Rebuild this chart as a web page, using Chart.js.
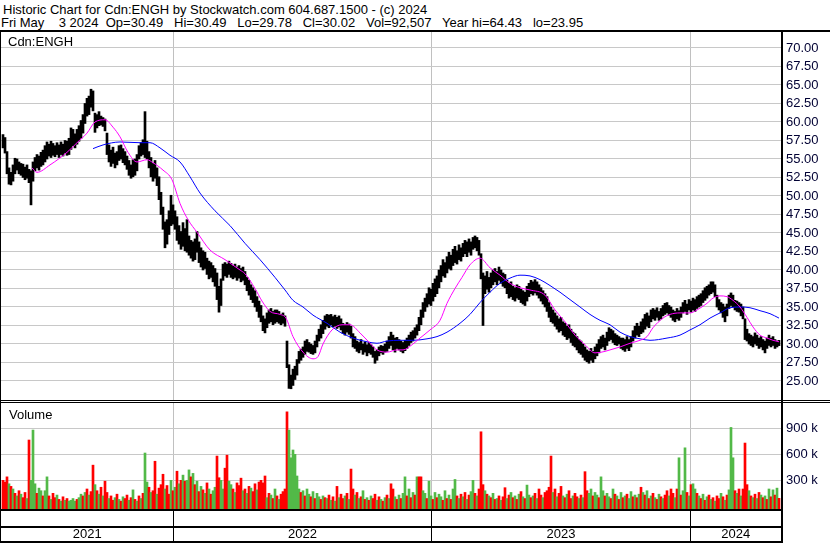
<!DOCTYPE html>
<html><head><meta charset="utf-8">
<script src="https://cdn.jsdelivr.net/npm/chart.js@4.4.1/dist/chart.umd.min.js"></script>
<style>
html,body{margin:0;padding:0;background:#fff;}
body{width:830px;height:543px;position:relative;overflow:hidden;font-family:"Liberation Sans",Arial,sans-serif;}
.t{position:absolute;white-space:pre;font-size:13px;line-height:14px;color:#000;}
.ln{position:absolute;background:#000;}
canvas{position:absolute;left:0;}
</style></head><body>
<div class="t" style="left:3px;top:3px">Historic Chart for Cdn:ENGH by Stockwatch.com 604.687.1500 - (c) 2024</div>
<div class="t" style="left:1px;top:16px">Fri May    3 2024  Op=30.49   Hi=30.49   Lo=29.78   Cl=30.02   Vol=92,507   Year hi=64.43   lo=23.95</div>
<canvas id="pc" width="830" height="368" style="top:32px;width:830px;height:368px"></canvas>
<canvas id="vc" width="830" height="140" style="top:403px;width:830px;height:140px"></canvas>
<div class="t" style="left:8px;top:35px">Cdn:ENGH</div>
<div class="t" style="left:9px;top:408px">Volume</div>
<div class="ln" style="left:0;top:30px;width:830px;height:2px"></div>
<div class="ln" style="left:0;top:400px;width:830px;height:1px"></div>
<div class="ln" style="left:0;top:402px;width:830px;height:1px"></div>
<div class="ln" style="left:781px;top:30px;width:2px;height:513px"></div>
<div class="ln" style="left:0;top:30px;width:1px;height:513px"></div>
<script>
// ---- data (2-weekday buckets, Apr 2021 .. May 3 2024) ----
const highs = [58.3,57.9,56.0,53.8,53.2,54.2,55.1,55.0,54.6,54.4,
54.3,53.9,54.2,53.6,53.4,54.6,55.2,55.6,55.4,55.9,
56.2,56.8,57.3,57.0,57.4,57.1,56.8,57.2,56.9,57.3,
57.0,57.5,57.4,57.8,59.2,59.0,58.4,59.0,59.5,60.2,
61.0,62.5,63.2,63.5,64.43,64.2,61.2,61.0,61.4,60.8,
60.6,60.4,58.5,56.9,56.2,56.6,55.8,56.0,56.8,56.9,
56.4,56.0,55.4,54.8,54.2,54.9,55.0,55.6,56.8,57.2,
57.6,61.4,57.4,56.0,55.2,54.4,54.8,53.8,52.6,50.5,
48.5,46.5,46.8,48.0,50.1,48.8,48.0,47.2,46.0,45.2,
46.4,45.6,46.8,44.6,44.0,43.8,44.2,45.2,43.8,43.0,
42.6,42.4,41.6,41.2,41.0,40.6,40.2,39.6,37.8,38.8,
40.8,41.0,40.8,41.2,40.9,40.6,40.8,40.4,40.6,40.2,
40.4,39.8,39.0,38.6,38.0,37.6,37.2,36.4,35.8,35.2,
33.8,33.4,34.2,34.6,34.8,34.4,34.6,34.6,34.4,34.0,
34.2,33.8,30.4,27.2,25.8,26.6,27.0,27.9,29.0,29.3,
29.6,30.4,30.6,30.2,30.0,29.8,30.4,31.2,32.0,32.6,
33.2,33.8,34.0,33.9,34.0,33.7,33.9,33.6,33.8,33.4,
32.8,32.6,32.9,32.7,32.4,31.4,31.0,30.4,30.2,30.6,
30.0,30.3,29.9,30.2,29.9,29.6,29.0,29.2,29.6,29.8,
29.7,30.0,30.4,31.0,31.6,31.2,30.8,30.9,30.6,30.4,
30.2,30.5,30.8,31.2,31.6,31.8,32.2,32.6,33.6,34.6,
35.6,36.2,36.8,37.6,37.4,38.2,38.8,39.2,40.0,40.6,
41.4,41.0,41.8,42.4,42.0,42.8,43.2,42.6,43.4,43.0,
43.6,44.0,43.8,44.2,43.8,44.4,44.6,44.4,44.0,42.2,
39.6,39.2,39.8,39.0,39.6,40.0,40.2,39.8,40.4,40.0,
39.6,39.4,38.6,38.2,38.4,37.8,37.6,38.0,37.8,37.4,
37.2,37.0,37.8,38.2,38.6,38.4,38.7,38.4,38.0,37.6,
37.2,36.8,36.4,35.6,35.0,34.6,34.2,33.8,33.4,33.6,
33.0,32.8,32.4,32.6,32.0,31.6,31.4,31.0,30.6,30.4,
30.0,29.6,29.2,29.0,29.4,29.0,29.6,30.0,30.6,31.0,
31.2,30.8,31.6,32.2,32.0,31.8,31.4,31.2,31.0,30.8,
30.8,30.6,31.0,30.6,31.0,31.8,32.4,32.8,32.4,33.0,
33.4,34.0,34.2,33.8,34.6,34.8,34.6,34.9,34.4,34.8,
35.2,35.5,35.6,35.2,35.0,34.6,34.4,34.8,34.5,35.0,
35.6,35.9,35.4,36.0,35.8,36.2,36.0,36.4,36.6,36.8,
37.2,37.6,37.8,38.0,38.4,38.4,38.0,36.6,36.0,35.6,
35.4,35.0,35.4,36.6,36.9,36.6,35.9,35.8,35.6,35.4,
35.0,33.4,32.0,31.4,31.2,31.0,31.5,31.2,30.8,31.0,
30.6,30.4,30.8,31.2,30.8,31.0,30.6,30.4,30.49];

const lows = [56.5,55.8,53.0,51.6,51.5,52.0,53.0,53.5,53.0,52.8,
52.5,52.2,52.4,51.8,48.8,52.0,53.4,53.8,53.5,54.0,
54.2,54.6,55.0,55.4,55.2,55.5,55.3,55.6,55.2,55.6,
55.4,55.8,55.5,55.6,56.3,56.8,56.5,57.0,57.4,57.8,
58.5,59.8,60.8,61.0,62.0,61.5,58.6,59.2,59.5,59.6,
59.4,58.8,55.6,54.6,54.0,54.4,53.8,54.2,54.8,55.0,
54.5,54.2,53.6,52.8,52.4,52.6,52.8,53.4,55.0,55.4,
55.6,55.2,55.0,53.8,52.6,52.0,52.4,51.4,49.5,47.5,
45.5,43.0,43.5,44.8,46.0,46.2,45.5,44.0,43.5,42.8,
43.2,42.6,42.4,42.0,41.6,41.2,41.4,42.4,41.0,40.4,
40.0,40.2,39.4,38.8,39.0,38.4,37.8,36.0,34.3,35.2,
38.6,39.2,39.0,39.4,39.0,38.8,39.0,38.6,38.9,38.4,
38.6,38.0,37.2,36.6,36.0,35.6,35.0,34.4,33.6,33.0,
31.8,31.5,32.2,32.8,33.0,32.6,32.8,33.0,32.8,32.6,
32.8,32.4,26.8,24.0,23.95,24.4,25.2,25.8,27.4,27.8,
28.2,28.6,29.0,28.9,28.7,28.6,28.8,29.6,30.4,30.8,
31.4,32.0,32.4,32.2,32.6,32.3,32.4,32.1,32.3,31.9,
31.4,31.2,31.6,31.3,30.8,29.6,29.4,29.0,28.8,29.2,
28.6,28.9,28.4,28.8,28.6,28.2,27.4,27.8,28.4,28.8,
28.6,28.9,29.0,29.4,29.8,29.2,28.9,29.4,29.2,29.0,
28.8,29.1,29.4,29.8,30.2,30.4,30.8,31.2,31.8,32.6,
33.6,34.4,35.0,35.4,35.2,35.8,36.4,36.8,37.6,38.4,
39.2,39.0,39.6,40.2,40.0,40.6,41.0,40.8,41.4,41.2,
41.8,42.2,41.8,42.4,42.0,42.8,43.0,42.6,42.0,38.8,
32.5,36.8,37.4,37.0,37.6,38.0,38.4,38.0,38.6,38.2,
37.8,37.6,36.8,36.2,36.4,36.0,35.8,36.2,36.0,35.6,
35.4,35.2,35.8,36.4,36.8,36.6,36.9,36.6,36.2,35.8,
35.4,35.0,34.4,33.6,33.0,32.8,32.4,32.0,31.6,31.8,
31.2,31.0,30.6,30.8,30.2,29.8,29.6,29.2,28.8,28.6,
28.2,27.8,27.6,27.4,27.8,27.5,28.0,28.4,28.8,29.4,
29.6,29.2,29.8,30.4,30.6,30.2,29.9,29.8,30.0,29.4,
29.2,29.0,29.4,29.1,29.6,30.4,30.8,31.2,31.0,31.4,
31.6,32.0,32.4,32.2,33.0,33.4,33.2,33.6,33.2,33.4,
33.8,34.0,34.2,33.9,33.6,33.2,33.0,33.4,33.2,33.6,
34.2,34.4,34.0,34.6,34.3,34.6,34.4,34.8,35.0,35.2,
35.6,35.9,36.2,36.6,36.8,37.0,36.4,35.0,34.6,34.2,
33.6,33.0,33.8,34.8,35.2,35.0,34.6,34.4,34.3,33.8,
33.4,30.6,30.4,30.0,29.8,29.6,30.0,29.8,29.4,29.6,
29.2,28.8,29.4,29.8,29.6,29.8,29.4,29.6,29.78];

// volume in thousands of shares
const volumesK = [300,280,340,260,230,200,150,120,180,140,
100,160,90,765,300,880,260,150,210,180,
120,180,340,120,80,150,100,130,80,60,
110,70,90,60,70,90,60,80,100,140,
120,160,200,130,170,475,250,180,140,220,
120,290,160,90,120,70,100,140,80,60,
110,90,130,70,100,190,80,60,120,90,
150,615,280,220,160,180,520,140,210,250,
370,200,240,140,300,180,220,405,260,300,
360,290,300,420,340,380,250,290,170,230,
190,150,270,200,140,180,220,580,330,300,
200,440,590,290,250,200,160,270,240,325,
180,200,150,230,210,170,260,190,280,300,
270,350,100,150,130,90,200,120,80,140,
170,200,1090,880,560,650,600,350,200,160,
180,120,200,140,110,170,90,150,110,80,
120,100,90,130,70,110,60,230,100,140,
90,120,150,80,430,200,130,160,90,110,
180,80,100,70,120,90,140,70,110,80,
60,100,130,90,260,200,110,80,130,90,
150,340,120,200,100,160,130,340,340,340,
180,150,90,290,120,80,160,100,140,110,
70,180,90,130,80,200,310,120,90,140,
110,160,80,130,170,300,150,120,200,860,
250,180,140,120,100,150,80,90,120,70,
110,215,90,130,160,100,120,80,140,170,
110,90,245,130,100,120,150,90,200,130,
100,160,180,220,580,160,200,110,150,230,
120,100,140,180,90,120,150,110,90,130,
100,400,180,150,200,120,160,130,100,340,
180,120,150,110,90,200,140,120,80,160,
100,120,140,90,170,110,130,100,140,220,
160,130,180,90,120,150,100,80,140,110,
90,130,180,120,200,150,100,200,560,130,
180,675,160,120,250,260,200,150,120,90,
140,70,110,130,80,100,60,120,90,150,
110,70,130,190,910,560,180,150,200,120,
200,730,250,180,120,100,140,90,160,130,
100,120,80,200,110,190,130,210,92.5];

// g = up day, r = down day
const volDir = ("rrrgrgrgrg rrgrgggrgg rggrgrrgrg rgrggggrgg rgrgrrgrgr grrgrrgrgr grrgrgrgrg rggrgrrgrr " +
 "rgrrgrgrgr grggrgrgrg rgrgrggrrg grrggrgrrr grgrgrrgrr rrgrgrgrgr rrrggggggr grggrgrggr " +
 "grgrgrgrgr rgrgrrgrgr grgrgrrgrg rgrgrrgrgr ggrgrgrgrr ggrggrgrgg rgrgrggrgr grgrggrgrr " +
 "rgrgrgrgrg rrgrgrgrgr grggrgrgrr grrrrgrgrr grgrrgrrgr grrggrggrg grggrgrgrg rgrggrgrgr " +
 "grgrgrgrgr grrgrrgrgr ggrgrggrgr grgrgrgrrg rgrgggrgrg rrrgrgrgrg rgrgrgrgr").replace(/ /g, "").split("");

// moving averages (weekday index, price)
const maShortDays = [31,36,49,66,76,86,94,104,112,119,127,136,146,152,162,171,179,187,196,209,224,239,244,254,261,269,279,285,292,302,312,317,322,331,341,349,359,369,376,386,396,402,411,419,429,439,446,454,461,469,479,489,499,509,519,529,544,554,564,574,584,594,604,609,619,629,639,646,652,662,669,679,689,696,706,712,719,726,732,739,746,752,759,766,772,778];
const maShortVals = [53.8,53.2,54.2,55.9,57.2,58.5,60.0,60.3,59.3,58.0,55.9,54.6,54.9,54.5,53.5,52.2,49.0,46.8,45.1,42.7,41.4,40.0,39.5,37.5,35.8,34.4,34.0,33.5,31.0,28.9,28.0,28.3,30.0,31.9,32.6,32.6,31.5,30.1,29.2,28.9,29.2,29.2,29.9,30.8,31.9,33.2,35.5,37.5,39.0,40.7,41.6,40.3,39.3,38.2,37.6,37.3,36.6,34.6,33.0,31.2,29.9,28.8,29.0,29.2,29.6,30.1,30.5,31.0,32.2,33.5,34.0,34.2,34.2,34.6,35.5,36.2,36.5,36.4,35.9,35.0,33.6,32.3,31.2,30.8,30.5,30.3];
const maLongDays = [92,102,119,139,149,159,169,179,189,199,214,229,244,259,274,284,292,302,312,326,339,352,366,376,386,399,412,426,436,446,459,469,479,489,499,509,519,529,539,549,559,569,579,589,599,609,619,629,639,649,666,679,689,699,709,719,729,739,749,759,769,778];
const maLongVals = [56.4,56.9,57.3,57.2,57.2,56.5,55.5,54.6,52.6,50.4,48.0,46.0,43.6,41.4,39.0,37.3,35.9,35.0,33.9,32.8,31.6,30.8,30.3,30.1,30.4,30.5,30.5,30.7,31.0,31.6,32.8,34.0,35.6,37.0,38.2,38.9,39.3,39.2,38.7,37.9,37.0,36.0,35.0,34.0,33.2,32.6,31.6,31.0,30.7,30.5,30.8,31.2,31.9,32.6,33.5,34.2,34.9,35.0,34.9,34.5,34.1,33.5];

// axes
const priceTicks = [25,27.5,30,32.5,35,37.5,40,42.5,45,47.5,50,52.5,55,57.5,60,62.5,65,67.5,70];
const volTicks = [300000,600000,900000];
const yearLabels = ["2021","2022","2023","2024"];
const yearBreakDays = [172.5,430.5,689.5];
const firstDay = 0, lastDay = 780;

// ---- drawing ----
const FONT = {family: "'Liberation Sans', Arial, sans-serif", size: 13};
const RED = '#ff0000', GREEN = '#52b948';
const dayOf = i => 2 * i + 2;

function noPad(s) { s.paddingTop = 0; s.paddingBottom = 0; s.paddingLeft = 0; s.paddingRight = 0; }
function gridX() {
  return {
    type: 'linear', min: firstDay, max: lastDay, offset: false,
    afterBuildTicks: s => { s.ticks = yearBreakDays.map(v => ({value: v})); },
    afterFit: s => { s.height = 0; noPad(s); },
    ticks: {display: false},
    grid: {color: '#c0c0c0', lineWidth: 1, drawTicks: false, offset: false},
    border: {display: false}
  };
}
const common = {
  responsive: false, animation: false, devicePixelRatio: 1, events: [],
  layout: {autoPadding: false, padding: {left: 1, right: 0, top: 0, bottom: 0}},
  plugins: {legend: {display: false}, tooltip: {enabled: false}}
};

new Chart(document.getElementById('pc'), {
  type: 'bar',
  data: {datasets: [
    {type: 'line', data: maShortDays.map((d, i) => ({x: d, y: maShortVals[i]})), borderColor: '#ff00ff', borderWidth: 1, pointRadius: 0, cubicInterpolationMode: 'monotone', order: 0},
    {type: 'line', data: maLongDays.map((d, i) => ({x: d, y: maLongVals[i]})), borderColor: '#0000ff', borderWidth: 1, pointRadius: 0, cubicInterpolationMode: 'monotone', order: 1},
    {type: 'bar', data: highs.map((h, i) => ({x: dayOf(i), y: [lows[i], h]})), backgroundColor: '#000', barThickness: 2, grouped: false, order: 2}
  ]},
  options: Object.assign({}, common, {
    scales: {
      x: gridX(),
      y: {type: 'linear', position: 'right', min: 22.432, max: 72.162,
        afterBuildTicks: s => { s.ticks = priceTicks.map(v => ({value: v})); },
        afterFit: s => { s.width = 49; noPad(s); },
        grid: {color: '#c8c8c8', drawTicks: false}, border: {display: false},
        ticks: {padding: 5, color: '#000033', font: FONT, autoSkip: false, callback: v => Number(v).toFixed(2)}}
    }
  })
});

const bandPlugin = {
  id: 'band',
  afterDraw(chart) {
    const ctx = chart.ctx, a = chart.chartArea, sx = chart.scales.x;
    ctx.save();
    ctx.fillStyle = '#000';
    ctx.fillRect(0, a.bottom, a.right, 2);
    ctx.fillRect(0, a.bottom + 17, a.right, 2);
    ctx.fillRect(0, a.bottom + 32, a.right, 2);
    yearBreakDays.forEach(d => {
      const px = Math.floor(sx.getPixelForValue(d));
      ctx.fillRect(px, a.bottom + 2, 1, 30);
    });
    ctx.restore();
  }
};

const bounds = [firstDay].concat(yearBreakDays, [lastDay]);
const yearMids = yearLabels.map((_, i) => (bounds[i] + bounds[i + 1]) / 2);

new Chart(document.getElementById('vc'), {
  type: 'bar',
  data: {datasets: [{
    data: volumesK.map((v, i) => ({x: dayOf(i), y: v * 1000})),
    backgroundColor: volDir.map(d => d === 'g' ? GREEN : RED),
    barThickness: 2, grouped: false, base: -30800
  }]},
  options: Object.assign({}, common, {
    scales: {
      x: gridX(),
      x2: {type: 'linear', position: 'bottom', min: firstDay, max: lastDay, offset: false,
        afterBuildTicks: s => { s.ticks = yearMids.map(v => ({value: v})); },
        afterFit: s => { s.height = 34; noPad(s); },
        grid: {display: false, drawTicks: false}, border: {display: false},
        ticks: {padding: 18, color: '#000', font: FONT, autoSkip: false, maxRotation: 0, callback: (v, i) => yearLabels[i]}},
      y: {type: 'linear', position: 'right', min: -30800, max: 1192000,
        afterBuildTicks: s => { s.ticks = volTicks.map(v => ({value: v})); },
        afterFit: s => { s.width = 49; noPad(s); },
        grid: {color: '#c8c8c8', drawTicks: false}, border: {display: false},
        ticks: {padding: 5, color: '#000033', font: FONT, autoSkip: false, callback: v => (v / 1000) + ' k'}}
    }
  }),
  plugins: [bandPlugin]
});
</script>
</body></html>
